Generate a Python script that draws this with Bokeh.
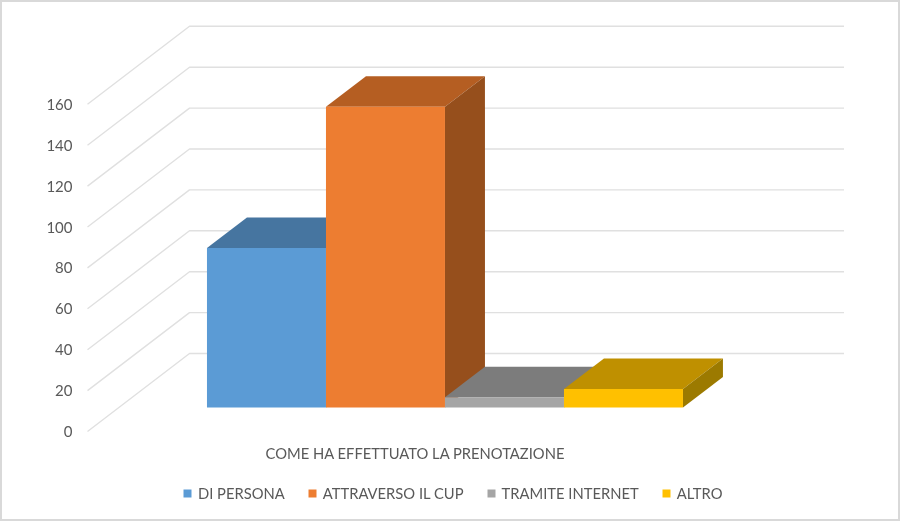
from bokeh.plotting import figure
from bokeh.embed import file_html
from bokeh.resources import INLINE
from bokeh.core.properties import value

series = ["DI PERSONA", "ATTRAVERSO IL CUP", "TRAMITE INTERNET", "ALTRO"]
values = [78, 147, 5, 9]
front_colors = ["#5B9BD5", "#ED7D31", "#A5A5A5", "#FFC000"]
top_colors = ["#4675A0", "#B55E22", "#7C7C7C", "#BF9000"]
side_colors = ["#3C6489", "#964F1C", "#696969", "#9C7A00"]
ticks = [0, 20, 40, 60, 80, 100, 120, 140, 160]
x_title = "COME HA EFFETTUATO LA PRENOTAZIONE"

W, H = 900, 521
PX_X = 119.0      # pixels per bar width
PX_Y = 2.045      # pixels per value unit
X0, Y0 = 87, 431  # pixel of the front-left floor corner
DEPTH_DX = 102 / PX_X
DEPTH_DY = 78 / PX_Y
FLOOR_W = 5.5     # 4 bars + gap width 150 %
GAP = 0.74
D0, D1 = 0.308, 0.70
FONT = value("Lato")
TXT = "#595959"


def proj(x, v, d):
    return x + d * DEPTH_DX, v + d * DEPTH_DY


def poly(points):
    pts = [proj(*q) for q in points]
    return [q[0] for q in pts], [q[1] for q in pts]


p = figure(
    width=W, height=H, output_backend="svg", toolbar_location=None,
    x_range=(-X0 / PX_X, (W - X0) / PX_X),
    y_range=(-(H - Y0) / PX_Y, Y0 / PX_Y),
    x_axis_location=None, y_axis_location=None, min_border=0,
    background_fill_color="white", border_fill_color="white",
)
p.styles = {"position": "fixed", "left": "0px", "top": "0px"}
p.grid.visible = False
p.outline_line_color = "#D9D9D9"
p.outline_line_width = 3

# walls: depth lines plus back-wall lines
for t in ticks:
    xs, ys = poly([(0, t, 0), (0, t, 1), (FLOOR_W, t, 1)])
    p.line(xs, ys, line_color="#E0E0E0", line_width=1.4)

# bars, left to right so that each one overlaps the previous
for i, v in enumerate(values):
    l, r = GAP + i, GAP + i + 1
    xs, ys = poly([(l, v, D0), (r, v, D0), (r, v, D1), (l, v, D1)])
    p.patch(xs, ys, fill_color=top_colors[i], line_color=None)
    xs, ys = poly([(r, 0, D0), (r, v, D0), (r, v, D1), (r, 0, D1)])
    p.patch(xs, ys, fill_color=side_colors[i], line_color=None)
    xs, ys = poly([(l, 0, D0), (r, 0, D0), (r, v, D0), (l, v, D0)])
    p.patch(xs, ys, fill_color=front_colors[i], line_color=None,
            legend_label=series[i])

# value labels
p.text([-15 / PX_X] * len(ticks), ticks, text=[str(t) for t in ticks],
       text_font=FONT, text_font_size="15px", text_color=TXT,
       text_align="right", text_baseline="middle")

# category-axis title
p.text([(415 - X0) / PX_X], [(Y0 - 452) / PX_Y], text=[x_title],
       text_font=FONT, text_font_size="14.75px", text_color=TXT,
       text_align="center", text_baseline="middle")

leg = p.legend[0]
leg.orientation = "horizontal"
leg.location = (182, 19)
leg.background_fill_alpha = 0
leg.border_line_color = None
leg.padding = 0
leg.margin = 0
leg.glyph_width = 10
leg.glyph_height = 10
leg.label_standoff = 6
leg.spacing = 22
leg.label_text_font = "Lato"
leg.label_text_font_size = "14.75px"
leg.label_text_color = TXT

open("out.html", "w").write(file_html(p, INLINE))
